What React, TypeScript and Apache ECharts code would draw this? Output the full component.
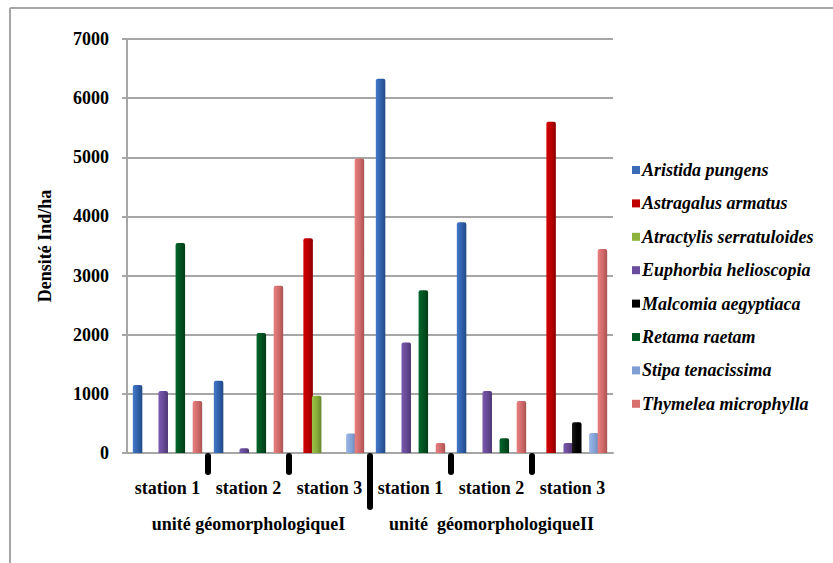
import React, { useEffect, useRef } from "react";
import * as echarts from "echarts";

const categories = ["station 1", "station 2", "station 3", "station 1", "station 2", "station 3"];
const unitLabels = ["unité géomorphologiqueI", "unité  géomorphologiqueII"];
const speciesNames = [
  "Aristida pungens",
  "Astragalus armatus",
  "Atractylis serratuloides",
  "Euphorbia helioscopia",
  "Malcomia aegyptiaca",
  "Retama raetam",
  "Stipa tenacissima",
  "Thymelea microphylla",
];
const aristida = [1150, 1220, null, 6330, 3900, null];
const astragalus = [null, null, 3630, null, null, 5600];
const atractylis = [null, null, 970, null, null, null];
const euphorbia = [1050, 80, null, 1870, 1050, 170];
const malcomia = [null, null, null, null, null, 520];
const retama = [3550, 2030, null, 2750, 250, null];
const stipa = [null, null, 330, null, null, 340];
const thymelea = [880, 2830, 4980, 170, 880, 3450];
const seriesValues = [aristida, astragalus, atractylis, euphorbia, malcomia, retama, stipa, thymelea];
const yTicks = { min: 0, max: 7000, interval: 1000 };
// category boundaries (after index) carrying the black separators
const minorSeparators = [0, 1, 3, 4];
const majorSeparators = [2];

const colors: [string, string, string][] = [
  ["#4479c8", "#2f5fa8", "#234a85"],
  ["#d00000", "#b80000", "#8c0000"],
  ["#9bc24a", "#86ab38", "#67862a"],
  ["#7a5aad", "#654893", "#4c3672"],
  ["#1a1a1a", "#000000", "#000000"],
  ["#00662a", "#005020", "#003a17"],
  ["#9ab7e6", "#83a2d6", "#6a88bb"],
  ["#e88080", "#d06a6a", "#a85252"],
];
const legendColors = ["#3a6cb8", "#c00000", "#8db33d", "#6a4c9c", "#000000", "#005a22", "#7f9fd4", "#d97070"];

const FONT = "Liberation Serif";

export default function App() {
  const ref = useRef<HTMLDivElement>(null);
  useEffect(() => {
    if (!ref.current) return;
    const chart = echarts.init(ref.current, null, { renderer: "svg" });
    const sepSeries = (list: number[], len: number) => ({
      type: "custom",
      silent: true,
      clip: false,
      xAxisIndex: 0,
      yAxisIndex: 0,
      data: list.map((i) => [i, 0]),
      encode: { x: 0, y: 1 },
      renderItem: (params: any, api: any) => {
        const c = api.coord([api.value(0), 0]);
        const w = api.size([1, 0])[0];
        const x = c[0] + w / 2;
        return {
          type: "rect",
          shape: { x: x - 3, y: c[1], width: 6, height: len, r: 3 },
          style: { fill: "#000" },
        };
      },
      z: 5,
    });
    const labelStyle = { fontFamily: FONT, fontSize: 18, fontWeight: "bold", color: "#000" };
    const option: any = {
      animation: false,
      backgroundColor: "#fff",
      textStyle: { fontFamily: FONT },
      grid: { left: 127, right: 220, top: 39, bottom: 110 },
      legend: {
        orient: "vertical",
        left: 627,
        top: 156,
        itemWidth: 8,
        itemHeight: 8,
        itemGap: 15.4,
        icon: "rect",
        data: speciesNames.map((n, i) => ({ name: n, itemStyle: { color: legendColors[i] } })),
        textStyle: { fontFamily: FONT, fontSize: 18, fontWeight: "bold", fontStyle: "italic", color: "#000", padding: [0, 0, 0, -3] },
      },
      xAxis: [
        {
          type: "category",
          data: categories,
          position: "bottom",
          axisLine: { show: true, lineStyle: { color: "#a6a6a6", width: 2 } },
          axisTick: { show: false },
          axisLabel: { ...labelStyle, margin: 26, interval: 0 },
          splitLine: { show: false },
        },
        {
          type: "category",
          data: unitLabels,
          position: "bottom",
          axisLine: { show: false },
          axisTick: { show: false },
          axisLabel: { ...labelStyle, margin: 62, interval: 0 },
          splitLine: { show: false },
        },
      ],
      yAxis: {
        type: "value",
        min: yTicks.min,
        max: yTicks.max,
        interval: yTicks.interval,
        name: "Densité Ind/ha",
        nameLocation: "middle",
        nameGap: 73,
        nameTextStyle: labelStyle,
        axisLine: { show: true, lineStyle: { color: "#a6a6a6", width: 2 } },
        axisTick: { show: true, length: 5, lineStyle: { color: "#a6a6a6", width: 2 } },
        axisLabel: { ...labelStyle, margin: 18, formatter: (v: number) => String(v) },
        splitLine: { show: true, lineStyle: { color: "#a6a6a6", width: 2 } },
      },
      graphic: [
        { type: "line", shape: { x1: 10, y1: 8, x2: 833, y2: 8 }, style: { stroke: "#a6a6a6", lineWidth: 2 }, silent: true },
        { type: "line", shape: { x1: 10, y1: 8, x2: 10, y2: 563 }, style: { stroke: "#a6a6a6", lineWidth: 2 }, silent: true },
      ],
      series: [
        ...speciesNames.map((name, i) => ({
          name,
          type: "bar",
          xAxisIndex: 0,
          yAxisIndex: 0,
          data: seriesValues[i],
          barWidth: 9.5,
          barGap: "-10%",
          itemStyle: {
            color: new echarts.graphic.LinearGradient(0, 0, 1, 0, [
              { offset: 0, color: colors[i][0] },
              { offset: 0.55, color: colors[i][1] },
              { offset: 1, color: colors[i][2] },
            ]),
            borderRadius: [2, 2, 0, 0],
          },
        })),
        sepSeries(minorSeparators, 22),
        sepSeries(majorSeparators, 57),
      ],
    };
    chart.setOption(option);
    return () => chart.dispose();
  }, []);
  return (
    <div
      ref={ref}
      style={{ position: "fixed", left: 0, top: 0, width: 833, height: 563, background: "#fff" }}
    />
  );
}
